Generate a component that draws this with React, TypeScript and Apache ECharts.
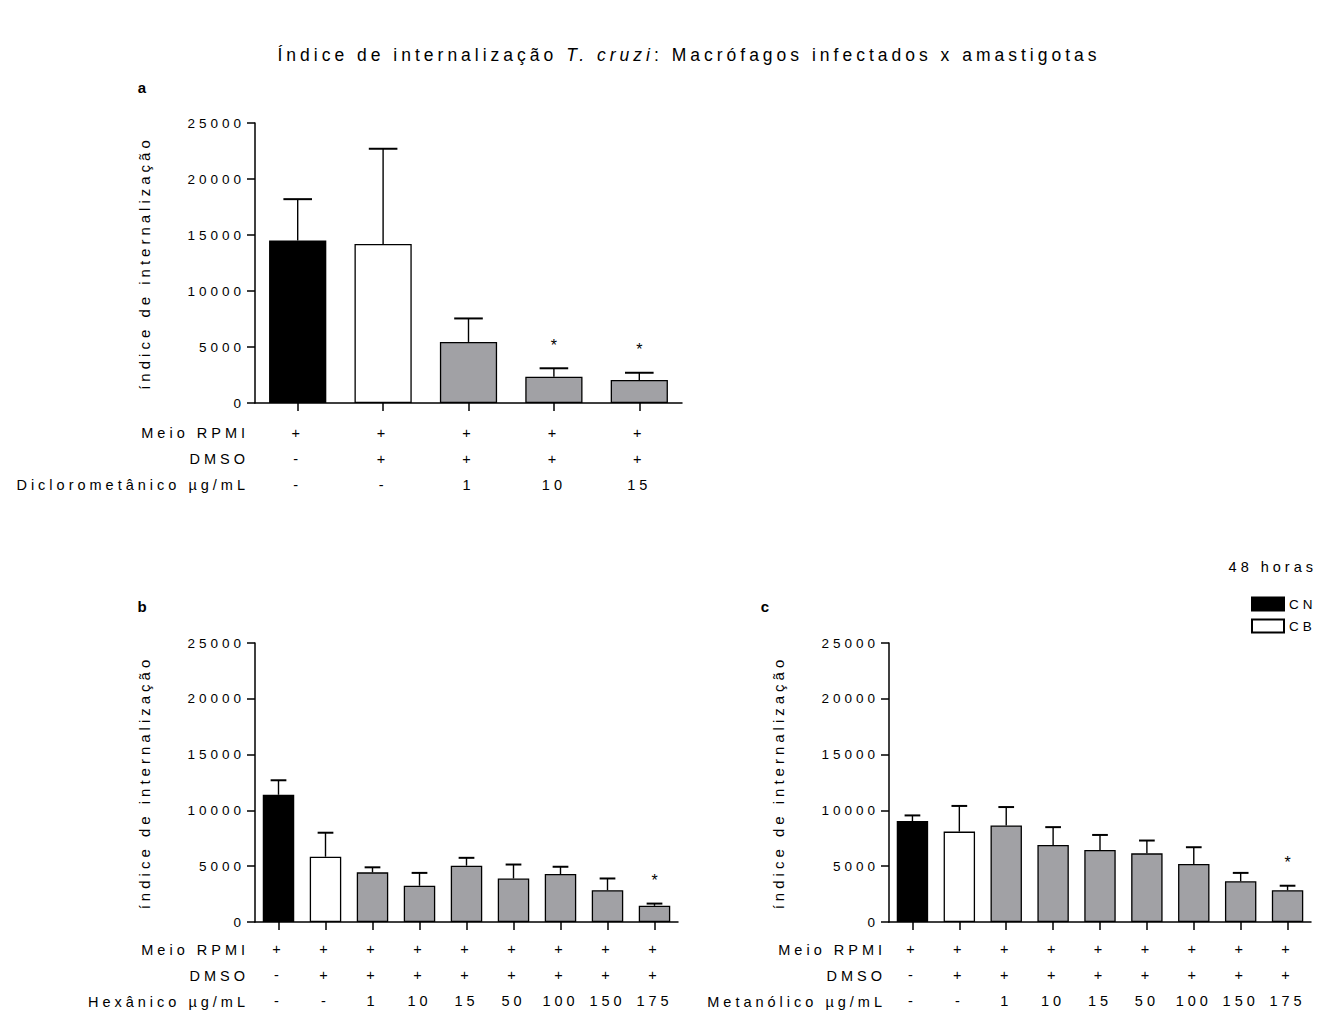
import React, { useEffect, useRef } from 'react';
import * as echarts from 'echarts';

// ---------- texts ----------
const TITLE_PARTS = ['Índice de internalização ', 'T. cruzi', ': Macrófagos infectados x amastigotas'];
const Y_NAME = 'índice de internalização';
const LEGEND_NAMES = ['CN', 'CB'];
const EXTRACT_NAME = 'Extrato';
const TIME_LABEL = '48 horas';
const PANEL_LETTERS = ['a', 'b', 'c'];

// ---------- y axis ----------
const Y_MIN = 0;
const Y_MAX = 25000;
const Y_STEP = 5000;

// ---------- panel a ----------
const rowNamesA = ['Meio RPMI', 'DMSO', 'Diclorometânico µg/mL'];
const rpmiA = ['+', '+', '+', '+', '+'];
const dmsoA = ['-', '+', '+', '+', '+'];
const concA = ['-', '-', '1', '10', '15'];
const meanA = [14500, 14200, 5450, 2350, 2050];
const errA = [3700, 8500, 2100, 750, 650];
const sigA = [0, 0, 0, 1, 1];

// ---------- panel b ----------
const rowNamesB = ['Meio RPMI', 'DMSO', 'Hexânico µg/mL'];
const rpmiB = ['+', '+', '+', '+', '+', '+', '+', '+', '+'];
const dmsoB = ['-', '+', '+', '+', '+', '+', '+', '+', '+'];
const concB = ['-', '-', '1', '10', '15', '50', '100', '150', '175'];
const meanB = [11400, 5850, 4450, 3250, 5050, 3900, 4300, 2850, 1450];
const errB = [1300, 2150, 450, 1150, 700, 1250, 650, 1050, 200];
const sigB = [0, 0, 0, 0, 0, 0, 0, 0, 1];

// ---------- panel c ----------
const rowNamesC = ['Meio RPMI', 'DMSO', 'Metanólico µg/mL'];
const rpmiC = ['+', '+', '+', '+', '+', '+', '+', '+', '+'];
const dmsoC = ['-', '+', '+', '+', '+', '+', '+', '+', '+'];
const concC = ['-', '-', '1', '10', '15', '50', '100', '150', '175'];
const meanC = [9050, 8100, 8650, 6900, 6450, 6150, 5200, 3650, 2850];
const errC = [500, 2300, 1650, 1600, 1350, 1150, 1500, 750, 400];
const sigC = [0, 0, 0, 0, 0, 0, 0, 0, 1];

const FONT = '"Liberation Sans", Arial, sans-serif';
const LS = 4; // letter spacing (px)
const GRAY = '#a1a1a5';

const PANELS = [
  { rows: rowNamesA, rpmi: rpmiA, dmso: dmsoA, conc: concA, mean: meanA, err: errA, sig: sigA,
    left: 255, top: 123, width: 427, height: 280, rowX: 249, letterX: 144, letterY: 87, margin: 17 },
  { rows: rowNamesB, rpmi: rpmiB, dmso: dmsoB, conc: concB, mean: meanB, err: errB, sig: sigB,
    left: 255, top: 643, width: 423, height: 280, rowX: 249, letterX: 144, letterY: 606, margin: 14 },
  { rows: rowNamesC, rpmi: rpmiC, dmso: dmsoC, conc: concC, mean: meanC, err: errC, sig: sigC,
    left: 889, top: 643, width: 422, height: 280, rowX: 886, letterX: 767, letterY: 606, margin: 14 },
];

const LINE_H = 26;

function measure(text: string, font: string) {
  const c = document.createElement('canvas').getContext('2d');
  if (!c) return text.length * 8;
  c.font = font;
  return c.measureText(text).width;
}

function buildOption() {
  const grid: any[] = [];
  const xAxis: any[] = [];
  const yAxis: any[] = [];
  const series: any[] = [];
  const graphic: any[] = [];

  PANELS.forEach((p, i) => {
    grid.push({ left: p.left, top: p.top, width: p.width, height: p.height, containLabel: false });
    xAxis.push({
      type: 'category',
      gridIndex: i,
      data: p.rpmi.map((r, k) => `${r}\n${p.dmso[k]}\n${p.conc[k]}`),
      axisLine: { show: true, lineStyle: { color: '#000', width: 1.5 } },
      axisTick: { show: true, alignWithLabel: true, length: 8, lineStyle: { color: '#000', width: 1.5 } },
      axisLabel: { interval: 0, margin: p.margin, lineHeight: LINE_H, fontSize: 14.5, color: '#000', fontFamily: FONT },
      splitLine: { show: false },
    });
    yAxis.push({
      type: 'value',
      gridIndex: i,
      min: Y_MIN,
      max: Y_MAX,
      interval: Y_STEP,
      name: Y_NAME,
      nameLocation: 'middle',
      nameGap: 103,
      nameTextStyle: { fontSize: 15, color: '#000', fontFamily: FONT },
      axisLine: { show: true, lineStyle: { color: '#000', width: 1.5 } },
      axisTick: { show: true, length: 8, lineStyle: { color: '#000', width: 1.5 } },
      axisLabel: { fontSize: 13.5, color: '#000', margin: 10, fontFamily: FONT, formatter: (v: number) => String(v) },
      splitLine: { show: false },
    });
    const common = { type: 'bar', xAxisIndex: i, yAxisIndex: i, barWidth: '67%', barGap: '-100%' };
    series.push({
      ...common, name: LEGEND_NAMES[0],
      data: p.mean.map((v, k) => (k === 0 ? v : '-')),
      itemStyle: { color: '#000', borderColor: '#000', borderWidth: 1.3 },
    });
    series.push({
      ...common, name: LEGEND_NAMES[1],
      data: p.mean.map((v, k) => (k === 1 ? v : '-')),
      itemStyle: { color: '#fff', borderColor: '#000', borderWidth: 1.3 },
    });
    series.push({
      ...common, name: EXTRACT_NAME,
      data: p.mean.map((v, k) => (k >= 2 ? v : '-')),
      itemStyle: { color: GRAY, borderColor: '#000', borderWidth: 1.3 },
    });
    series.push({
      type: 'custom',
      name: 'erro',
      xAxisIndex: i,
      yAxisIndex: i,
      z: 5,
      clip: false,
      encode: { x: 0, y: 1 },
      data: p.mean.map((v, k) => [k, v, p.err[k], p.sig[k]]),
      renderItem: (params: any, api: any) => {
        const x = api.value(0);
        const m = api.value(1);
        const e = api.value(2);
        const s = api.value(3);
        const base = api.coord([x, m]);
        const top = api.coord([x, m + e]);
        const bw = api.size([1, 0])[0] * 0.67;
        const half = bw * 0.25;
        const children: any[] = [
          { type: 'line', shape: { x1: base[0], y1: base[1], x2: top[0], y2: top[1] },
            style: { stroke: '#000', lineWidth: 1.4 } },
          { type: 'line', shape: { x1: top[0] - half, y1: top[1], x2: top[0] + half, y2: top[1] },
            style: { stroke: '#000', lineWidth: 2 } },
        ];
        if (s) {
          children.push({
            type: 'text', x: top[0] + LS / 2, y: top[1] - 23,
            style: { text: '*', fill: '#000', fontSize: 16, fontFamily: FONT,
              align: 'center', verticalAlign: 'middle', textAlign: 'center', textVerticalAlign: 'middle' },
          });
        }
        return { type: 'group', children };
      },
    });

    // row names
    p.rows.forEach((r, k) => {
      graphic.push({
        type: 'text',
        x: p.rowX,
        y: p.top + p.height + p.margin + LINE_H / 2 + k * LINE_H,
        style: { text: r, fill: '#000', fontSize: 14.5, fontFamily: FONT,
          align: 'right', verticalAlign: 'middle', textAlign: 'right', textVerticalAlign: 'middle' },
      });
    });
    // panel letter
    graphic.push({
      type: 'text', x: p.letterX, y: p.letterY,
      style: { text: PANEL_LETTERS[i], fill: '#000', fontSize: 15, fontWeight: 'bold', fontFamily: FONT,
        align: 'center', verticalAlign: 'middle', textAlign: 'center', textVerticalAlign: 'middle' },
    });
  });

  // title (three pieces, middle one italic)
  const tSize = 17.5;
  const fonts = [`${tSize}px ${FONT}`, `italic ${tSize}px ${FONT}`, `${tSize}px ${FONT}`];
  const widths = TITLE_PARTS.map((t, k) => measure(t, fonts[k]) + LS * t.length);
  const total = widths.reduce((a, b) => a + b, 0);
  let cx = 689 - total / 2;
  TITLE_PARTS.forEach((t, k) => {
    graphic.push({
      type: 'text', x: cx, y: 55,
      style: { text: t, fill: '#000', fontSize: tSize, fontStyle: k === 1 ? 'italic' : 'normal', fontFamily: FONT,
        align: 'left', verticalAlign: 'middle', textAlign: 'left', textVerticalAlign: 'middle' },
    });
    cx += widths[k];
  });

  graphic.push({
    type: 'text', x: 1317, y: 567,
    style: { text: TIME_LABEL, fill: '#000', fontSize: 14.5, fontFamily: FONT,
      align: 'right', verticalAlign: 'middle', textAlign: 'right', textVerticalAlign: 'middle' },
  });

  return {
    animation: false,
    backgroundColor: '#fff',
    textStyle: { fontFamily: FONT, color: '#000' },
    legend: {
      data: LEGEND_NAMES,
      orient: 'vertical',
      left: 1251,
      top: 596,
      padding: 0,
      itemWidth: 32,
      itemHeight: 13,
      itemGap: 6,
      icon: 'rect',
      selectedMode: false,
      textStyle: { fontSize: 13.5, color: '#000', lineHeight: 16, fontFamily: FONT },
    },
    grid,
    xAxis,
    yAxis,
    series,
    graphic,
  };
}

export default function App() {
  const ref = useRef<HTMLDivElement>(null);
  useEffect(() => {
    if (!ref.current) return;
    const chart = echarts.init(ref.current, null, { renderer: 'svg' });
    chart.setOption(buildOption() as any);
    return () => chart.dispose();
  }, []);
  return (
    <div
      ref={ref}
      style={{ position: 'absolute', left: 0, top: 0, width: 1318, height: 1014, letterSpacing: `${LS}px` }}
    />
  );
}
